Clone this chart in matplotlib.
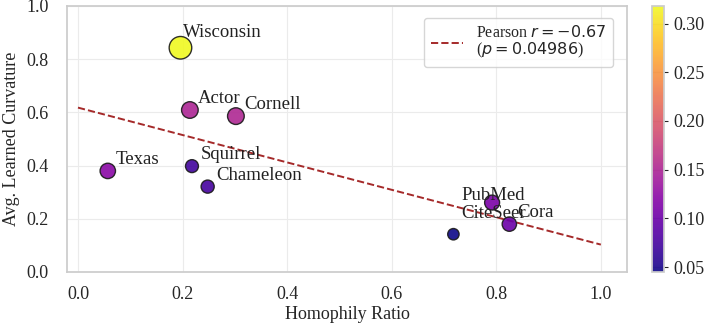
import numpy as np
import matplotlib
matplotlib.use("Agg")
import matplotlib.pyplot as plt
import seaborn as sns

datasets = ["Wisconsin", "Actor", "Cornell", "Texas", "Squirrel", "Chameleon", "PubMed", "Cora", "CiteSeer"]
homophily = [0.196, 0.214, 0.302, 0.057, 0.218, 0.248, 0.792, 0.825, 0.718]
curvature = [0.843, 0.609, 0.586, 0.380, 0.398, 0.321, 0.261, 0.180, 0.142]
color_vals = [0.318, 0.150, 0.152, 0.122, 0.072, 0.075, 0.112, 0.100, 0.045]
fit_intercept = 0.618
fit_slope = -0.515
fit_x = [0.0, 1.0]
legend_label = "Pearson $r = -0.67$\n($p = 0.04986$)"

sns.set_theme(style="whitegrid")
plt.rcParams["font.family"] = ["Liberation Serif", "DejaVu Sans"]
plt.rcParams["mathtext.fontset"] = "dejavusans"

offsets = {"Wisconsin": (1.5, 8), "PubMed": (-22, 2), "CiteSeer": (6, 11.5)}

fig = plt.figure(figsize=(7.18, 3.23), dpi=100)
ax = fig.add_axes([67/718, 51/323, 560/718, 266/323])
cax = fig.add_axes([652/718, 51/323, 12/718, 266/323])

sizes = 35 + np.array(color_vals) * 720
sc = ax.scatter(homophily, curvature, c=color_vals, s=sizes, cmap="plasma",
                vmin=min(color_vals), vmax=max(color_vals),
                edgecolors="#1a1a1a", linewidths=1.0, alpha=0.9, zorder=3)

fx = np.array(fit_x)
ax.plot(fx, fit_intercept + fit_slope * fx, ls="--", color="#a52a2a", lw=1.4,
        label=legend_label, zorder=2)

for name, x, y in zip(datasets, homophily, curvature):
    off = offsets.get(name, (6, 5))
    ax.annotate(name, (x, y), xytext=off, textcoords="offset points",
                fontsize=13.5, color="#222222", zorder=4)

ax.set_xlim(-0.021, 1.05)
ax.set_ylim(0, 1.0)
ax.set_xticks([0.0, 0.2, 0.4, 0.6, 0.8, 1.0])
ax.set_yticks([0.0, 0.2, 0.4, 0.6, 0.8, 1.0])
ax.tick_params(axis="x", labelsize=13, colors="#262626", pad=4)
ax.tick_params(axis="y", labelsize=13, colors="#262626", pad=7)
ax.set_xlabel("Homophily Ratio", fontsize=13, color="#262626", labelpad=2)
ax.set_ylabel("Avg. Learned Curvature", fontsize=13, color="#262626", labelpad=5)
for sp in ax.spines.values():
    sp.set_color("#cccccc")
ax.grid(color="#ebebeb", lw=0.8)

leg = ax.legend(loc="upper right", fontsize=11.5, frameon=True, handlelength=2.0,
                borderpad=0.45, bbox_to_anchor=(0.99, 0.985))
leg.get_frame().set_edgecolor("#cccccc")
for t in leg.get_texts():
    t.set_linespacing(0.95)

cb = fig.colorbar(sc, cax=cax)
cb.set_ticks([0.05, 0.10, 0.15, 0.20, 0.25, 0.30])
cb.ax.tick_params(labelsize=13, colors="#262626", length=3, width=0.8, left=False, right=True)
cb.outline.set_edgecolor("#cccccc")

fig.savefig("out.png", dpi=100)
